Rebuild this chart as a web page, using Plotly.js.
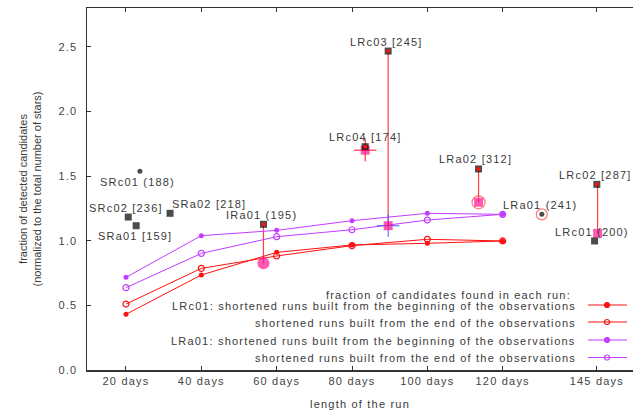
<!DOCTYPE html>
<html>
<head>
<meta charset="utf-8">
<script src="https://cdn.plot.ly/plotly-3.0.1.min.js"></script>
<style>
  html, body { margin: 0; padding: 0; background: #fff; }
  #chart { width: 635px; height: 416px; }
  .annotation-text, .xtick text, .ytick text, .xtitle { letter-spacing: 1.2px; }
</style>
</head>
<body>
<div id="chart"></div>
<script>
// ---------------- data ----------------
const runDays = [20, 40, 60, 80, 100, 120];
const lrc01Begin = [0.431, 0.735, 0.910, 0.967, 0.980, 0.998];
const lrc01End   = [0.510, 0.786, 0.882, 0.962, 1.011, 0.998];
const lra01Begin = [0.717, 1.039, 1.080, 1.155, 1.212, 1.204];
const lra01End   = [0.637, 0.902, 1.031, 1.085, 1.160, 1.204];

const fieldNames = ['SRc01 (188)', 'SRc02 [236]', 'SRa01 [159]', 'SRa02 [218]', 'IRa01 (195)',
                    'LRc04 [174]', 'LRc03 [245]', 'LRa02 [312]', 'LRa01 (241)', 'LRc02 [287]', 'LRc01 (200)'];
const fieldDays = [23.7, 20.6, 22.7, 31.7, 56.5, 83.5, 89.6, 113.6, 130.4, 145.0, 144.4];
const fieldFrac = [1.537, 1.183, 1.116, 1.212, 1.127, 1.727, 2.467, 1.555, 1.204, 1.436, 0.998];

const splitNames = ['IRa01', 'LRc04', 'LRc03', 'LRa02', 'LRc02'];
const splitDays  = [56.5, 83.5, 89.6, 113.6, 145.2];
const splitBegin = [1.127, 1.727, 2.467, 1.555, 1.436];
const splitEnd   = [0.825, 1.700, 1.116, 1.297, 1.057];

const tickDays   = [20, 40, 60, 80, 100, 120, 145];
const tickLabels = ['20 days', '40 days', '60 days', '80 days', '100 days', '120 days', '145 days'];
const yTicks     = [0.0, 0.5, 1.0, 1.5, 2.0, 2.5];

const legendTitle = 'fraction of candidates found in each run:';
const legendLabels = [
  'LRc01: shortened runs built from the beginning of the observations',
  'shortened runs built from the end of the observations',
  'LRa01: shortened runs built from the beginning of the observations',
  'shortened runs built from the end of the observations'
];

// ---------------- styles ----------------
const RED = '#ff1010';
const PURPLE = '#c33cff';
const PINK = '#ff1493';
const TXT = '#3a3a3a';
const FONT = 'Liberation Sans, Arial, sans-serif';

// label placement (pixel shifts relative to each field marker)
const labelShift = {
  'SRc01 (188)': [-2, -11], 'SRc02 [236]': [-2, 9], 'SRa01 [159]': [-1, -10],
  'SRa02 [218]': [39, 9], 'IRa01 (195)': [-2, 9], 'LRc04 [174]': [0, 10],
  'LRc03 [245]': [-2, 9], 'LRa02 [312]': [-3, 10], 'LRa01 (241)': [-2, 9],
  'LRc02 [287]': [-1, 9], 'LRc01 (200)': [-3, 9]
};
const fieldSymbol = {'SRc01 (188)': 'circle', 'LRa01 (241)': 'circle'};
const endSymbol = {'IRa01': 'circle'};

// vertical split lines built from the data
const vx = [], vy = [];
splitDays.forEach((d, i) => { vx.push(d, d, null); vy.push(splitBegin[i], splitEnd[i], null); });

const traces = [
  {x: vx, y: vy, mode: 'lines', line: {color: '#ff4040', width: 1.2}, hoverinfo: 'skip'},
  {x: runDays, y: lrc01Begin, mode: 'lines+markers', line: {color: RED, width: 1},
   marker: {color: RED, size: 5, symbol: 'circle'}},
  {x: runDays, y: lrc01End, mode: 'lines+markers', line: {color: RED, width: 1},
   marker: {color: RED, size: 6, symbol: 'circle-open', line: {width: 1.2, color: RED}}},
  {x: runDays, y: lra01Begin, mode: 'lines+markers', line: {color: PURPLE, width: 1},
   marker: {color: PURPLE, size: 5, symbol: 'circle'}},
  {x: runDays, y: lra01End, mode: 'lines+markers', line: {color: PURPLE, width: 1},
   marker: {color: PURPLE, size: 6, symbol: 'circle-open', line: {width: 1.2, color: PURPLE}}},
  // blue / red crosshair behind some end markers
  {x: [splitDays[2]], y: [splitEnd[2]], mode: 'markers',
   marker: {symbol: 'cross-thin-open', size: 16, color: '#4060ff', line: {color: '#4060ff', width: 1}}},
  {x: [splitDays[1]], y: [splitEnd[1]], mode: 'markers',
   marker: {symbol: 'cross-thin-open', size: 16, color: RED, line: {color: RED, width: 1}}},
  // red rings
  {x: [fieldDays[8], splitDays[3]], y: [fieldFrac[8], splitEnd[3]], mode: 'markers',
   marker: {symbol: 'circle-open', size: [11, 13], color: '#ff4040', line: {color: '#ff4040', width: 1.2}}},
  // end-of-run (pink) markers
  {x: splitDays, y: splitEnd, mode: 'markers',
   marker: {color: PINK, symbol: splitNames.map(n => endSymbol[n] || 'square'),
            size: splitNames.map(n => n === 'IRa01' ? 12 : 9), line: {width: 0}}},
  // field markers (black)
  {x: fieldDays, y: fieldFrac, mode: 'markers',
   marker: {color: '#000', symbol: fieldNames.map(n => fieldSymbol[n] || 'square'),
            size: fieldNames.map(n => fieldSymbol[n] ? 5 : 7), line: {width: 0}}},
  // beginning (red) dots
  {x: splitDays.map((d, i) => i === 4 ? fieldDays[9] : d), y: splitBegin, mode: 'markers',
   marker: {color: RED, size: 4, symbol: 'circle'}}
];

// ---------------- manual legend (text left of the key) ----------------
const L = 87, R = 633, T = 8, B = 370;
const px = v => (v - L) / (R - L);
const py = v => (B - v) / (B - T);
const rowsY = [305, 322, 340, 357.5];
const keyColors = [RED, RED, PURPLE, PURPLE];
// key samples drawn on a hidden pixel-space overlay axis
rowsY.forEach((yy, i) => {
  const open = i % 2 === 1;
  traces.push({x: [588, 627], y: [yy, yy], xaxis: 'x2', yaxis: 'y2', mode: 'lines',
               line: {color: keyColors[i], width: 1}, hoverinfo: 'skip'});
  traces.push({x: [607], y: [yy], xaxis: 'x2', yaxis: 'y2', mode: 'markers', hoverinfo: 'skip',
               marker: {color: keyColors[i], size: 5, symbol: open ? 'circle-open' : 'circle',
                        line: {color: keyColors[i], width: 1.2}}});
});

const annotations = fieldNames.map((n, i) => ({
  x: fieldDays[i], y: fieldFrac[i], xref: 'x', yref: 'y', text: n, showarrow: false,
  xshift: labelShift[n][0], yshift: labelShift[n][1],
  xanchor: 'center', yanchor: 'middle',
  font: {family: FONT, size: 11, color: TXT}
}));
annotations.push({xref: 'paper', yref: 'paper', x: px(573), y: py(295), text: legendTitle,
  showarrow: false, xanchor: 'right', yanchor: 'middle', font: {family: FONT, size: 11, color: TXT}});
legendLabels.forEach((t, i) => annotations.push({xref: 'paper', yref: 'paper', x: px(578), y: py(rowsY[i] + 0.5),
  text: t, showarrow: false, xanchor: 'right', yanchor: 'middle', font: {family: FONT, size: 11, color: TXT}}));

const layout = {
  width: 635, height: 416,
  margin: {l: L, r: 635 - R, t: T, b: 416 - B},
  paper_bgcolor: '#fff', plot_bgcolor: '#fff',
  showlegend: false,
  font: {family: FONT, size: 11, color: TXT},
  xaxis: {
    range: [9.65, 154.6], tickmode: 'array', tickvals: tickDays, ticktext: tickLabels,
    ticks: 'inside', ticklen: 4, tickcolor: '#333', showgrid: false, zeroline: false,
    showline: true, linecolor: '#333', linewidth: 1.5, mirror: 'ticks',
    tickfont: {family: FONT, size: 11, color: '#444'},
    title: {text: 'length of the run', font: {family: FONT, size: 11, color: TXT}, standoff: 14}
  },
  yaxis: {
    range: [0, 2.8], tickmode: 'array', tickvals: yTicks, tickformat: '.1f',
    ticks: 'inside', ticklen: 4, tickcolor: '#333', showgrid: false, zeroline: false,
    showline: true, linecolor: '#333', linewidth: 1.5,
    tickfont: {family: FONT, size: 11, color: '#444'},
    ticklabelstandoff: 6,
    title: {text: 'fraction of detected candidates<br>(normalized to the total number of stars)',
            font: {family: FONT, size: 11, color: TXT}, standoff: 14}
  },
  xaxis2: {overlaying: 'x', range: [L, R], visible: false, fixedrange: true},
  yaxis2: {overlaying: 'y', range: [B, T], visible: false, fixedrange: true},
  annotations: annotations
};

Plotly.newPlot('chart', traces, layout, {displayModeBar: false, staticPlot: true});
</script>
</body>
</html>
